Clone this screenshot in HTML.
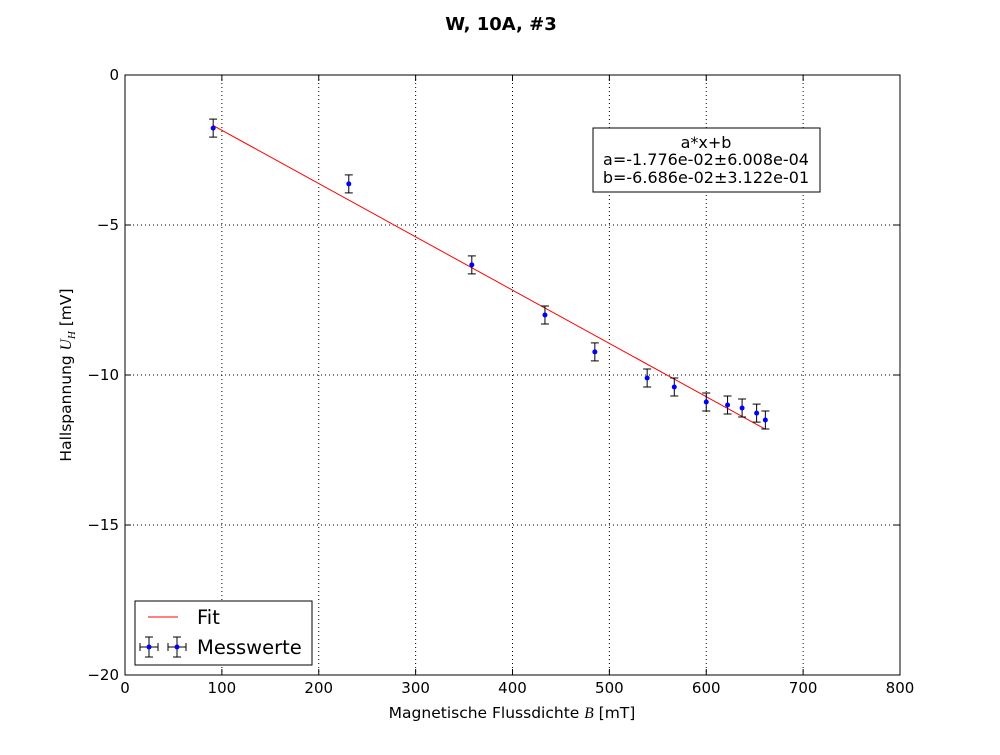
<!DOCTYPE html>
<html><head><meta charset="utf-8"><style>
body{margin:0;background:#fff;font-family:"Liberation Sans","DejaVu Sans",sans-serif;}
svg text{font-family:"DejaVu Sans","Liberation Sans",sans-serif;}
</style></head><body>
<svg id="chart" width="1000" height="750">
<rect width="1000" height="750" fill="#fff"/>
<text x="501" y="30" text-anchor="middle" font-size="18" font-weight="bold">W, 10A, #3</text>
<g id="grid"></g><g id="axes"></g><g id="marks"></g>
<rect x="125" y="75" width="775" height="600" fill="none" stroke="#000"/>
<text x="512" y="718" text-anchor="middle" font-size="15.5">Magnetische Flussdichte <tspan font-style="italic" font-family="Liberation Serif,serif">B</tspan> [mT]</text>
<text transform="translate(71,375) rotate(-90)" text-anchor="middle" font-size="15.5">Hallspannung <tspan font-style="italic" font-family="Liberation Serif,serif">U<tspan font-size="11" dy="4">H</tspan></tspan><tspan dy="-4">  [mV]</tspan></text>
<g>
<rect x="593" y="128" width="227" height="64" fill="#fff" stroke="#000"/>
<text x="706" y="148" text-anchor="middle" font-size="16">a*x+b</text>
<text x="706" y="165" text-anchor="middle" font-size="16">a=-1.776e-02±6.008e-04</text>
<text x="706" y="183" text-anchor="middle" font-size="16">b=-6.686e-02±3.122e-01</text>
</g>
<g>
<rect x="135" y="601" width="177" height="64" fill="#fff" stroke="#000"/>
<line x1="148" y1="617" x2="178" y2="617" stroke="red"/>
<text x="197" y="624" font-size="19.5">Fit</text>
<g stroke="#000">
<line x1="140" y1="647" x2="158" y2="647"/><line x1="149" y1="637" x2="149" y2="657"/>
<line x1="145" y1="637" x2="153" y2="637"/><line x1="145" y1="657" x2="153" y2="657"/>
<line x1="140" y1="643" x2="140" y2="651"/><line x1="158" y1="643" x2="158" y2="651"/>
<line x1="168" y1="647" x2="186" y2="647"/><line x1="177" y1="637" x2="177" y2="657"/>
<line x1="173" y1="637" x2="181" y2="637"/><line x1="173" y1="657" x2="181" y2="657"/>
<line x1="168" y1="643" x2="168" y2="651"/><line x1="186" y1="643" x2="186" y2="651"/>
</g>
<circle cx="149" cy="647" r="2.5" fill="blue"/><circle cx="177" cy="647" r="2.5" fill="blue"/>
<text x="197" y="654" font-size="19.5">Messwerte</text>
</g>
</svg>
<script>
const xVals=[91,231,358,433.5,485,539,567,600,622,637,652,661];
const yVals=[-1.77,-3.63,-6.33,-8.0,-9.23,-10.1,-10.4,-10.9,-11.0,-11.1,-11.27,-11.5];
const yErr=[0.3,0.3,0.3,0.3,0.3,0.3,0.3,0.3,0.3,0.3,0.3,0.3];
const fitA=-0.01776, fitB=-0.06686;
const xTicks=[0,100,200,300,400,500,600,700,800];
const yTicks=[0,-5,-10,-15,-20];
const yTickLabels=["0","\u22125","\u221210","\u221215","\u221220"];
const NS="http://www.w3.org/2000/svg";
const X=v=>125+(v/800)*775, Y=v=>75+(-v/20)*600;
function mk(t,a,p){const e=document.createElementNS(NS,t);for(const k in a)e.setAttribute(k,a[k]);p.appendChild(e);return e;}
const grid=document.getElementById('grid'),axes=document.getElementById('axes'),marks=document.getElementById('marks');
xTicks.forEach(t=>{const x=X(t);
 if(t>0&&t<800){const g=mk('line',{x1:x,y1:75,x2:x,y2:675,stroke:'#000','stroke-dasharray':'1,3'},grid);
 
 }
 mk('line',{x1:x,y1:675,x2:x,y2:669,stroke:'#000'},axes);mk('line',{x1:x,y1:75,x2:x,y2:81,stroke:'#000'},axes);
 const l=mk('text',{x:x,y:693,'text-anchor':'middle','font-size':15},axes);l.textContent=t;
 
 });
yTicks.forEach((t,i)=>{const y=Y(t);
 if(t<0&&t>-20){const g=mk('line',{x1:125,y1:y,x2:900,y2:y,stroke:'#000','stroke-dasharray':'1,3'},grid);
 
 }
 mk('line',{x1:125,y1:y,x2:131,y2:y,stroke:'#000'},axes);mk('line',{x1:900,y1:y,x2:894,y2:y,stroke:'#000'},axes);
 const l=mk('text',{x:119,y:y+5,'text-anchor':'end','font-size':15},axes);l.textContent=yTickLabels[i];
 
 });
const x0=Math.min(...xVals),x1=Math.max(...xVals);
const fl=mk('line',{x1:X(x0),y1:Y(fitA*x0+fitB),x2:X(x1),y2:Y(fitA*x1+fitB),stroke:'red'},marks);


xVals.forEach((xv,i)=>{const x=X(xv),y=Y(yVals[i]),t=Y(yVals[i]+yErr[i]),b=Y(yVals[i]-yErr[i]);
 const g=mk('g',{stroke:'#000'},marks);
 
 
 mk('line',{x1:x,y1:t,x2:x,y2:b},g);mk('line',{x1:x-4,y1:t,x2:x+4,y2:t},g);mk('line',{x1:x-4,y1:b,x2:x+4,y2:b},g);
 mk('circle',{cx:x,cy:y,r:2.5,fill:'blue',stroke:'none'},g);});
</script>
</body></html>
